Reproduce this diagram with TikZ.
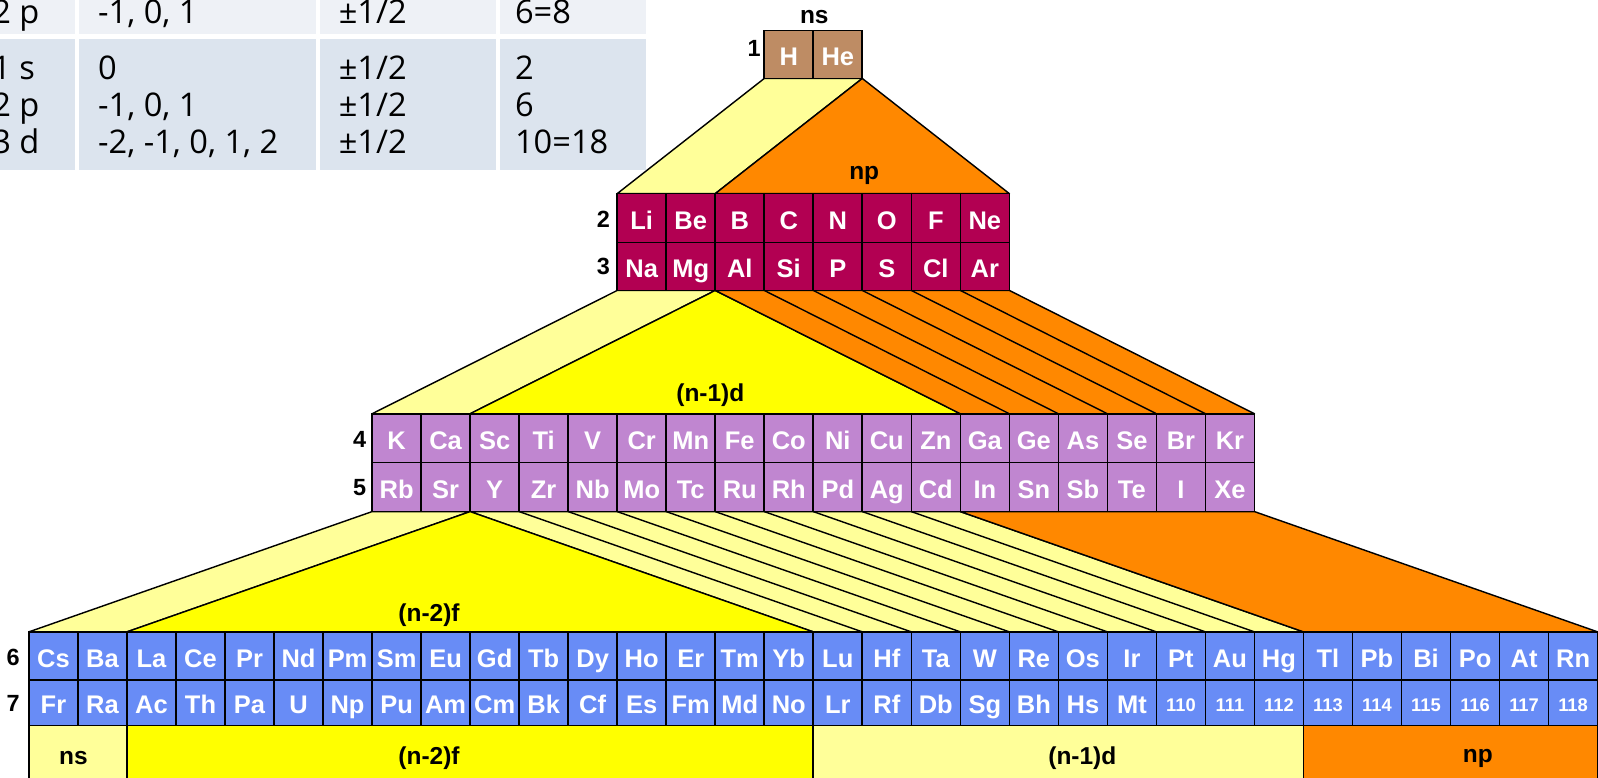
\documentclass[tikz,border=0pt]{standalone}
\usepackage{fontspec}
\setmainfont{Liberation Sans}
\newfontfamily\tabfont{Open Sans}
\usetikzlibrary{backgrounds}
\definecolor{tanc}{RGB}{190,140,100}
\definecolor{crim}{RGB}{178,0,82}
\definecolor{lilac}{RGB}{192,134,208}
\definecolor{peri}{RGB}{104,140,246}
\definecolor{lyel}{RGB}{255,255,153}
\definecolor{yel}{RGB}{255,255,0}
\definecolor{orng}{RGB}{255,136,0}
\definecolor{tabA}{RGB}{238,241,246}
\definecolor{tabB}{RGB}{220,228,238}
\tikzset{
 cell/.style={draw=black, line width=0.8pt, text=white, inner sep=0pt, outer sep=0pt,
   minimum width=24.05pt, text height=11pt, text depth=0pt,
   font=\bfseries\fontsize{12.5}{12.5}\selectfont},
 numcell/.style={cell, font=\bfseries\fontsize{9}{9}\selectfont, text height=8.6pt, text depth=0pt},
 funnel/.style={draw=black, line width=0.7pt, line join=round},
 lbl/.style={font=\bfseries\fontsize{12}{12}\selectfont, text=black, inner sep=0pt},
 rownum/.style={font=\bfseries\fontsize{11.5}{11.5}\selectfont, inner sep=0pt},
 tabtxt/.style={font=\tabfont\fontsize{16}{18}\selectfont, anchor=base west, inner sep=0pt},
 band/.style={draw=black, line width=0.8pt},
}
\newcommand\ptrow[6]{%
 \foreach \s [count=\i from #2] in {#6} {
   \node[cell, fill=#5, minimum height=#4] (#1c\i) at ({28.4+48.1*(\i+0.5)}, #3) {\s};
 }}
\begin{document}
\begin{tikzpicture}[x=0.5pt,y=-0.5pt]
\useasboundingbox (0,0) rectangle (1568,763);
\clip (0,0) rectangle (1568,763);
\coordinate (bot) at (0,775);
% ---- element cells ----
\ptrow{r1}{15}{53.5}{23.5pt}{tanc}{H,He}
\ptrow{r2}{12}{214}{24pt}{crim}{Li,Be,B,C,N,O,F,Ne}
\ptrow{r3}{12}{261.5}{23.5pt}{crim}{Na,Mg,Al,Si,P,S,Cl,Ar}
\ptrow{r4}{7}{430}{24pt}{lilac}{K,Ca,Sc,Ti,V,Cr,Mn,Fe,Co,Ni,Cu,Zn,Ga,Ge,As,Se,Br,Kr}
\ptrow{r5}{7}{478}{24pt}{lilac}{Rb,Sr,Y,Zr,Nb,Mo,Tc,Ru,Rh,Pd,Ag,Cd,In,Sn,Sb,Te,I,Xe}
\ptrow{r6}{0}{643.5}{23.5pt}{peri}{Cs,Ba,La,Ce,Pr,Nd,Pm,Sm,Eu,Gd,Tb,Dy,Ho,Er,Tm,Yb,Lu,Hf,Ta,W,Re,Os,Ir,Pt,Au,Hg,Tl,Pb,Bi,Po,At,Rn}
\ptrow{r7}{0}{689.5}{22.5pt}{peri}{Fr,Ra,Ac,Th,Pa,U,Np,Pu,Am,Cm,Bk,Cf,Es,Fm,Md,No,Lr,Rf,Db,Sg,Bh,Hs,Mt}
\foreach \s [count=\i from 23] in {110,111,112,113,114,115,116,117,118}
  \node[numcell, fill=peri, minimum height=22.5pt] (r7c\i) at ({28.4+48.1*(\i+0.5)}, 689.5) {\s};
\begin{scope}[on background layer]
% ---- table ----
\fill[tabA] (-40,-10) rectangle (74,33);
\fill[tabA] (78,-10) rectangle (310,33);
\fill[tabA] (314,-10) rectangle (487,33);
\fill[tabA] (491,-10) rectangle (634,33);
\fill[tabB] (-40,38) rectangle (74,167);
\fill[tabB] (78,38) rectangle (310,167);
\fill[tabB] (314,38) rectangle (487,167);
\fill[tabB] (491,38) rectangle (634,167);
% ---- funnel 1 -> 2 ----
\filldraw[funnel, fill=lyel] (r1c15.south west) -- (r1c16.south east) -- (r2c13.north east) -- (r2c12.north west) -- cycle;
\filldraw[funnel, fill=orng] (r1c16.south east) -- (r2c19.north east) -- (r2c14.north west) -- cycle;
% ---- funnel 3 -> 4 ----
\filldraw[funnel, fill=lyel] (r3c12.south west) -- (r3c13.south east) -- (r4c8.north east) -- (r4c7.north west) -- cycle;
\filldraw[funnel, fill=yel] (r3c13.south east) -- (r4c18.north east) -- (r4c9.north west) -- cycle;
\filldraw[funnel, fill=orng] (r3c14.south west) -- (r3c19.south east) -- (r4c24.north east) -- (r4c19.north west) -- cycle;
\foreach \k [evaluate=\k as \kk using int(\k+5)] in {15,...,19}
  \draw[funnel] (r3c\k.south west) -- (r4c\kk.north west);
% ---- funnel 5 -> 6 ----
\filldraw[funnel, fill=lyel] (r5c7.south west) -- (r5c8.south east) -- (r6c1.north east) -- (r6c0.north west) -- cycle;
\filldraw[funnel, fill=lyel] (r5c9.south west) -- (r5c18.south east) -- (r6c25.north east) -- (r6c16.north west) -- cycle;
\foreach \k [evaluate=\k as \kk using int(\k+7)] in {10,...,18}
  \draw[funnel] (r5c\k.south west) -- (r6c\kk.north west);
\filldraw[funnel, fill=yel] (r5c8.south east) -- (r6c15.north east) -- (r6c2.north west) -- cycle;
\filldraw[funnel, fill=orng] (r5c19.south west) -- (r5c24.south east) -- (r6c31.north east) -- (r6c26.north west) -- cycle;
% ---- bottom band ----
\filldraw[band, fill=lyel] (r7c0.south west) rectangle (r7c1.south east |- bot);
\filldraw[band, fill=yel] (r7c2.south west) rectangle (r7c15.south east |- bot);
\filldraw[band, fill=lyel] (r7c16.south west) rectangle (r7c25.south east |- bot);
\filldraw[band, fill=orng] (r7c26.south west) rectangle (r7c31.south east |- bot);
\end{scope}
% ---- table text ----
\node[tabtxt] (ta1) at (-8,23.5) {2 p};
\node[tabtxt] (ta2) at (96,23.5) {-1, 0, 1};
\node[tabtxt] (ta3) at (332,23.5) {±1/2};
\node[tabtxt] (ta4) at (505,23.5) {6=8};
\node[tabtxt] (tb11) at (-8,78.5) {1 s};
\node[tabtxt] (tb12) at (-8,114.5) {2 p};
\node[tabtxt] (tb13) at (-8,150.5) {3 d};
\node[tabtxt] (tb21) at (96,78.5) {0};
\node[tabtxt] (tb22) at (96,114.5) {-1, 0, 1};
\node[tabtxt] (tb23) at (96,150.5) {-2, -1, 0, 1, 2};
\node[tabtxt] (tb31) at (332,78.5) {±1/2};
\node[tabtxt] (tb32) at (332,114.5) {±1/2};
\node[tabtxt] (tb33) at (332,150.5) {±1/2};
\node[tabtxt] (tb41) at (505,78.5) {2};
\node[tabtxt] (tb42) at (505,114.5) {6};
\node[tabtxt] (tb43) at (505,150.5) {10=18};
% ---- labels ----
\node[lbl] (Lns) at (799,17) {ns};
\node[lbl] (Lnp) at (848,172) {np};
\node[lbl] (Ld) at (697,388) {(n-1)d};
\node[lbl] (Lf) at (421,604) {(n-2)f};
\node[lbl] (Bns) at (72,744) {ns};
\node[lbl] (Bf) at (421,744) {(n-2)f};
\node[lbl] (Bd) at (1062,744) {(n-1)d};
\node[lbl] (Bnp) at (1450,744) {np};
\node[rownum] (n1) at (740,48) {1};
\node[rownum] (n2) at (592,215) {2};
\node[rownum] (n3) at (592,261) {3};
\node[rownum] (n4) at (353,431) {4};
\node[rownum] (n5) at (353,478) {5};
\node[rownum] (n6) at (13,645) {6};
\node[rownum] (n7) at (13,690) {7};
\end{tikzpicture}
\end{document}
